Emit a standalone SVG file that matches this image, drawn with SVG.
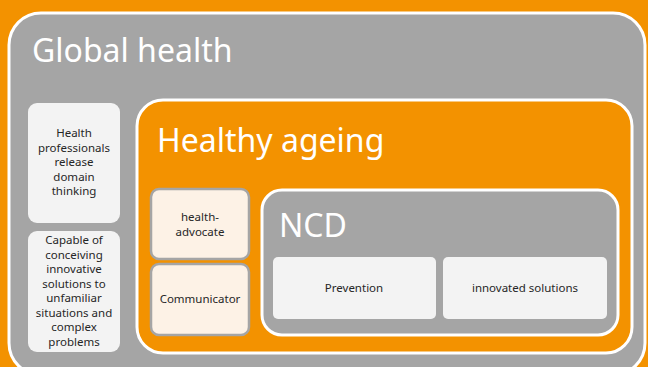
<svg xmlns="http://www.w3.org/2000/svg" width="648" height="367" viewBox="0 0 648 367">
<style>
text{font-family:"Noto Sans","Open Sans","Liberation Sans",sans-serif}
.big{fill:#FFFFFF;font-size:32px}
.sm{fill:#262626;font-size:11.5px;text-anchor:middle}
.lt{fill:#F3F3F3}
.cream{fill:#FDF2E6;stroke:#A5A5A5;stroke-width:2.5}
.cont{stroke:#FFFFFF;stroke-width:3}
</style>
<rect x="0" y="0" width="648" height="367" fill="#F39200"/>
<g id="global-health">
<rect class="cont" x="9" y="13" width="636" height="362" rx="32" fill="#A5A5A5"/>
<text class="big" x="32" y="62">Global health</text>
</g>
<g id="domain-thinking">
<rect class="lt" x="28" y="103" width="92" height="120" rx="9"/>
<text class="sm"><tspan x="74" y="137">Health</tspan><tspan x="74" y="151.5">professionals</tspan><tspan x="74" y="166">release</tspan><tspan x="74" y="180.5">domain</tspan><tspan x="74" y="195">thinking</tspan></text>
</g>
<g id="capable">
<rect class="lt" x="28" y="231" width="92" height="121" rx="9"/>
<text class="sm"><tspan x="74" y="244">Capable of</tspan><tspan x="74" y="258.5">conceiving</tspan><tspan x="74" y="273">innovative</tspan><tspan x="74" y="287.5">solutions to</tspan><tspan x="74" y="302">unfamiliar</tspan><tspan x="74" y="316.5">situations and</tspan><tspan x="74" y="331">complex</tspan><tspan x="74" y="345.5">problems</tspan></text>
</g>
<g id="healthy-ageing">
<rect class="cont" x="137" y="100" width="495" height="253" rx="26" fill="#F39200"/>
<text class="big" x="157" y="152">Healthy ageing</text>
</g>
<g id="health-advocate">
<rect class="cream" x="151" y="189" width="98" height="70" rx="8"/>
<text class="sm"><tspan x="200" y="221">health-</tspan><tspan x="200" y="236">advocate</tspan></text>
</g>
<g id="communicator">
<rect class="cream" x="151" y="264" width="98" height="71" rx="8"/>
<text class="sm" x="200" y="303">Communicator</text>
</g>
<g id="ncd">
<rect class="cont" x="262" y="190" width="356" height="145" rx="20" fill="#A5A5A5"/>
<text class="big" x="279" y="237">NCD</text>
</g>
<g id="prevention">
<rect class="lt" x="273" y="257" width="163" height="62" rx="5"/>
<text class="sm" x="354" y="292">Prevention</text>
</g>
<g id="innovated-solutions">
<rect class="lt" x="443" y="257" width="164" height="62" rx="5"/>
<text class="sm" x="525" y="292">innovated solutions</text>
</g>
<g id="connectors"/>
</svg>
